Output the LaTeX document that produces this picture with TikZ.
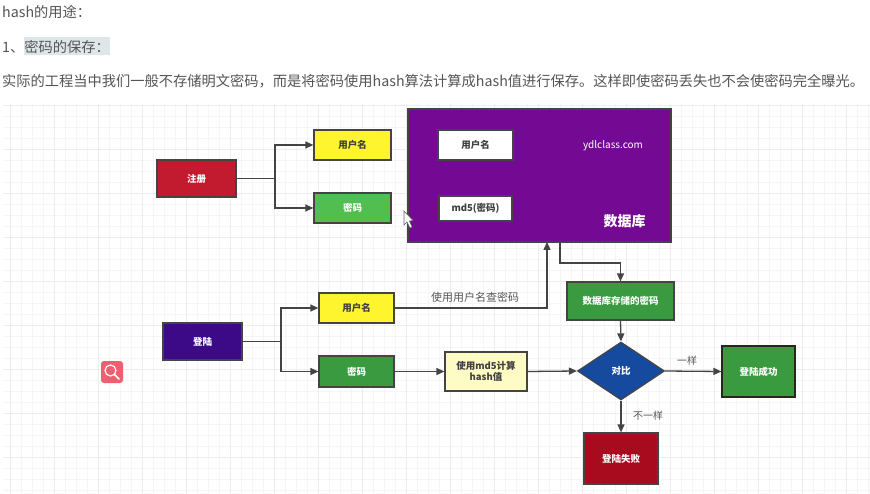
\documentclass[tikz,border=0pt]{standalone}
\usepackage{fontspec}
\setmainfont{Noto Sans CJK SC}
\usetikzlibrary{arrows.meta,shapes.geometric}
\definecolor{txt}{HTML}{555555}
\definecolor{ln}{HTML}{444444}
\definecolor{cred}{HTML}{C21A2E}
\definecolor{cyel}{HTML}{FFF52E}
\definecolor{cgrn}{HTML}{50BF50}
\definecolor{cpur}{HTML}{740A94}
\definecolor{cind}{HTML}{3C0A86}
\definecolor{cgr2}{HTML}{3A9A3F}
\definecolor{ccre}{HTML}{FFFBC4}
\definecolor{cblu}{HTML}{154A9F}
\definecolor{cdrd}{HTML}{A80A1E}
\definecolor{hilite}{HTML}{DFE6E9}
\definecolor{icon}{HTML}{EE5F70}
\tikzset{
  x=1pt,y=-1pt,
  box/.style={draw=ln,line width=1.2pt,inner sep=0pt,align=center,font=\fontsize{9.5}{11}\selectfont\bfseries},
  wtext/.style={text=white},
  dtext/.style={text=black!75},
  conn/.style={draw=ln,line width=1.3pt},
  arr/.style={conn,-{Triangle[length=8pt,width=7pt]}},
  lbl/.style={inner sep=0pt,text=txt,font=\fontsize{10}{12}\selectfont},
  para/.style={inner sep=0pt,anchor=west,text=txt,font=\fontsize{14.25}{17}\selectfont},
}
\begin{document}
\begin{tikzpicture}
\useasboundingbox (0,0) rectangle (870,494);
\fill[white] (0,0) rectangle (870,494);
% grid
\foreach \gx in {0,...,78}{\draw[black!4,line width=.5pt] ({10+11*\gx},104) -- ({10+11*\gx},494);}
\foreach \gy in {0,...,35}{\draw[black!4,line width=.5pt] (3,{105+11*\gy}) -- (870,{105+11*\gy});}
\foreach \gx in {0,...,19}{\draw[black!7,line width=.6pt] ({10+44*\gx},104) -- ({10+44*\gx},494);}
\foreach \gy in {0,...,8}{\draw[black!7,line width=.6pt] (3,{105+44*\gy}) -- (870,{105+44*\gy});}
% heading text
\node[para] (h1) at (2,12) {hash的用途：};
\fill[hilite] (24,37) rectangle (110,55);
\node[para] (h2) at (2,47) {1、密码的保存：};
\node[para] (h3) at (2,81) {实际的工程当中我们一般不存储明文密码，而是将密码使用hash算法计算成hash值进行保存。这样即使密码丢失也不会使密码完全曝光。};
% register
\node[box,wtext,fill=cred,minimum width=79pt,minimum height=37pt] (reg) at (196.5,178.5) {注册};
\node[box,dtext,fill=cyel,minimum width=77pt,minimum height=30pt] (user1) at (352.5,145) {用户名};
\node[box,wtext,fill=cgrn,minimum width=77pt,minimum height=30pt] (pw1) at (352.5,208) {密码};
% database
\node[box,fill=cpur,minimum width=263pt,minimum height=133pt] (db) at (539.5,175.5) {};
\node[box,dtext,fill=white,minimum width=75pt,minimum height=30pt] (dbuser) at (475.5,145) {用户名};
\node[box,dtext,fill=white,minimum width=73pt,minimum height=25pt] (dbmd) at (475.5,208.5) {md5(密码)};
\node[inner sep=0pt,text=white,font=\fontsize{10}{12}\selectfont] (site) at (613,146) {ydlclass.com};
\node[inner sep=0pt,text=white,font=\fontsize{14}{16}\selectfont\bfseries] (dbname) at (624.5,221) {数据库};
% login
\node[box,wtext,fill=cind,minimum width=79pt,minimum height=37pt] (login) at (202.5,341.5) {登陆};
\node[box,dtext,fill=cyel,minimum width=75pt,minimum height=30pt] (user2) at (356.5,308) {用户名};
\node[box,wtext,fill=cgr2,minimum width=75pt,minimum height=31pt] (pw2) at (356.5,371.5) {密码};
\node[box,dtext,fill=ccre,minimum width=82pt,minimum height=39pt] (md5) at (486,371.5) {使用md5计算\\hash值};
\node[box,wtext,fill=cgr2,minimum width=107pt,minimum height=38pt] (stored) at (620.5,301) {数据库存储的密码};
\node[diamond,aspect=1.5,box,wtext,fill=cblu,minimum width=87pt,minimum height=58pt] (cmp) at (621,371) {对比};
\node[box,wtext,fill=cgr2,minimum width=73pt,minimum height=51pt,draw=black!85] (ok) at (758.5,371.5) {登陆成功};
\node[box,wtext,fill=cdrd,minimum width=74pt,minimum height=51pt] (fail) at (621,458.5) {登陆失败};
% junctions
\coordinate (j1) at (275,178.5);
\coordinate (j2) at (281,341.5);
\coordinate (dbout) at (560,242);
\coordinate (dbin) at (547,242);
\coordinate (bend) at (560,263);
% connectors
\draw[conn] (reg.east) -- (j1);
\draw[arr] (j1) |- (user1.west);
\draw[arr] (j1) |- (pw1.west);
\draw[conn] (login.east) -- (j2);
\draw[arr] (j2) |- (user2.west);
\draw[arr] (j2) |- (pw2.west);
\draw[arr] (user2.east) -| (dbin);
\draw[arr] (dbout) -- (bend) -| (stored.north);
\draw[arr] (pw2.east) -- (md5.west);
\draw[arr] (md5.east) -- (cmp.west);
\draw[arr] (stored.south) -- (cmp.north);
\draw[arr] (cmp.east) -- (ok.west);
\draw[arr] (cmp.south) -- (fail.north);
% edge labels
\node[lbl,font=\fontsize{11}{13}\selectfont] (l1) at (475,297) {使用用户名查密码};
\node[lbl] (l2) at (687,361) {一样};
\node[lbl] (l3) at (648,416) {不一样};
% search icon
\fill[rounded corners=3pt,fill=icon] (101,361) rectangle (123,383);
\draw[white,line width=1.2pt] (110.5,370.5) circle (5.5);
\draw[white,line width=1.6pt,line cap=round] (114.5,374.5) -- (119,379);
% cursor
\draw[fill=white,draw=black!60,line width=.6pt] (404,211) -- (404,225) -- (407,222) -- (410,228) -- (412,227) -- (409.5,221) -- (413,220.5) -- cycle;
\end{tikzpicture}
\end{document}
